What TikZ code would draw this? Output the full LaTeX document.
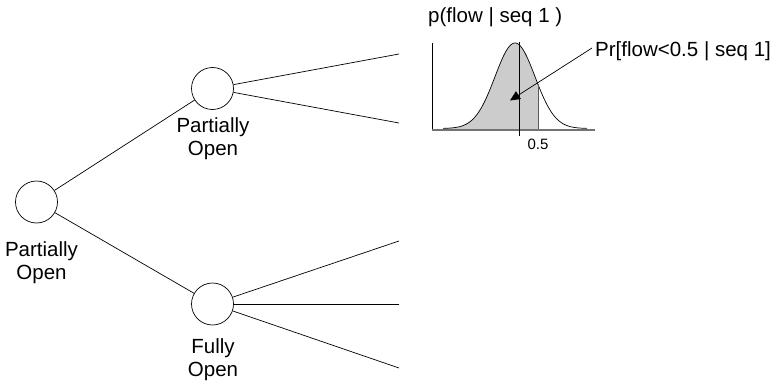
\documentclass[tikz,border=0pt]{standalone}
\usepackage{fontspec}
\setmainfont{Liberation Sans}
\usetikzlibrary{arrows.meta}
\begin{document}
\begin{tikzpicture}[x=1pt,y=-1pt,
  state/.style={draw, circle, minimum size=42pt, inner sep=0pt, line width=0.7pt},
  lbl/.style={align=center, font=\fontsize{20.5}{23}\selectfont, inner sep=0pt},
  edge/.style={line width=0.7pt},
  gfill/.style={fill=black!20}]
\useasboundingbox (0,0) rectangle (778,385);
% tree nodes
\node[state] (root) at (36.5,202) {};
\node[state] (po) at (212.5,88.5) {};
\node[state] (fo) at (212.5,304) {};
\node[lbl] (rootl) at (41.5,263) {Partially\\Open};
\node[lbl] (pol) at (213,138.5) {Partially\\Open};
\node[lbl] (fol) at (213,359.5) {Fully\\Open};
% branch ends
\coordinate (p1) at (399,54);
\coordinate (p2) at (399,123);
\coordinate (f1) at (399,241);
\coordinate (f2) at (399,304);
\coordinate (f3) at (399,368);
\draw[edge] (root) -- (po);
\draw[edge] (root) -- (fo);
\draw[edge] (po) -- (p1);
\draw[edge] (po) -- (p2);
\draw[edge] (fo) -- (f1);
\draw[edge] (fo) -- (f2);
\draw[edge] (fo) -- (f3);
% density plot
\fill[gfill] (443,130) -- plot[domain=443:538, samples=80] (\x, {128.5 - 85.5*exp(-((\x-515)*(\x-515))/800)}) -- (538,130) -- cycle;
\draw[edge] plot[domain=443:587, samples=120] (\x, {128.5 - 85.5*exp(-((\x-515)*(\x-515))/800)});
\draw[edge, black!65] (538,{128.5 - 85.5*exp(-(23*23)/800)}) -- (538,130);
\draw[edge] (432,43) -- (432,130);
\draw[line width=1.2pt, black!55] (432,130) -- (595,130);
\draw[edge] (519,42) -- (519,136);
\node[font=\fontsize{15}{17}\selectfont, inner sep=0pt] (half) at (538,144.5) {0.5};
\node[font=\fontsize{20.5}{23}\selectfont, inner sep=0pt, anchor=west] (title) at (428,17) {p(flow | seq 1 )};
\node[font=\fontsize{20.5}{23}\selectfont, inner sep=0pt, anchor=west] (pr) at (595,51) {Pr[flow<0.5 | seq 1]};
\coordinate (tip) at (510,100.5);
\draw[edge, -{Triangle[length=10pt,width=9pt]}] ([xshift=-3pt,yshift=3pt]pr.west) -- (tip);
\end{tikzpicture}
\end{document}
